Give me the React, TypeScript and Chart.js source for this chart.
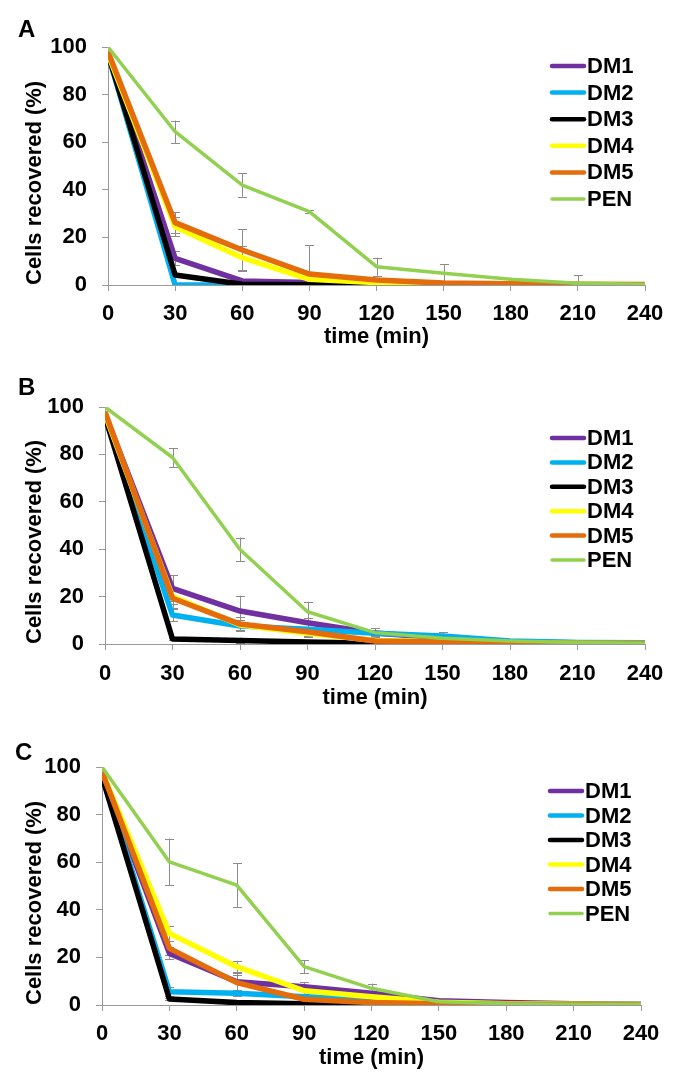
import React, { useEffect, useRef } from "react";
import { Chart, registerables } from "chart.js";
Chart.register(...registerables);

// ---------- data ----------
const TIMES = [0, 30, 60, 90, 120, 150, 180, 210, 240];
const SERIES = ["DM1", "DM2", "DM3", "DM4", "DM5", "PEN"];
const COLORS = ["#7030A0", "#00B0F0", "#000000", "#FFFF00", "#E46C0A", "#92D050"];
const Y_TICKS = [0, 20, 40, 60, 80, 100];
const X_TITLE = "time (min)";
const Y_TITLE = "Cells recovered (%)";

// Panel A values
const A_DM1 = [97, 11.2, 1.7, 1.0, 0.5, 0.3, 0.2, 0.1, 0.1];
const A_DM2 = [97, 0, 0, 0, 0, 0, 0, 0, 0];
const A_DM3 = [97, 4.2, 0.3, 0.1, 0, 0, 0, 0, 0];
const A_DM4 = [97, 24.5, 11.5, 2.4, 1.0, 0.5, 0.3, 0.2, 0.1];
const A_DM5 = [98, 26.2, 14.7, 4.6, 2.1, 0.8, 0.5, 0.3, 0.2];
const A_PEN = [100, 64.4, 42, 30.8, 7.7, 4.9, 2.4, 0.7, 0.3];
// Panel A error bars
const A_ERR_DM1 = [0, 3, 1, 0.5, 0, 0, 0, 0, 0];
const A_ERR_DM2 = [0, 0, 0, 0, 0, 0, 0, 0, 0];
const A_ERR_DM3 = [0, 1, 0, 0, 0, 0, 0, 0, 0];
const A_ERR_DM4 = [0, 4, 5, 1, 0.5, 0, 0, 0, 0];
const A_ERR_DM5 = [0, 4.3, 8.8, 12, 1, 0.5, 0, 0, 0];
const A_ERR_PEN = [0, 4.7, 4.9, 0.7, 3.8, 3.8, 0.7, 3.4, 0];

// Panel B values
const B_DM1 = [97, 23.5, 13.9, 9.0, 4.6, 2.5, 1.0, 0.5, 0.3];
const B_DM2 = [97, 12.2, 7.6, 6.2, 4.5, 3.4, 1.3, 0.6, 0.5];
const B_DM3 = [96, 2.1, 1.5, 0.8, 0.3, 0.1, 0, 0, 0];
const B_DM4 = [97, 20, 8.0, 4.5, 1.5, 1.0, 0.5, 0.3, 0.2];
const B_DM5 = [98, 19.3, 8.4, 5.2, 1.3, 0.8, 0.5, 0.3, 0.2];
const B_PEN = [100, 78.7, 39.9, 13.6, 4.8, 2.4, 1.3, 0.6, 0.3];
// Panel B error bars
const B_ERR_DM1 = [0, 5.5, 6.5, 2, 1, 0.5, 0, 0, 0];
const B_ERR_DM2 = [0, 2.5, 1.5, 1, 1, 1.5, 0, 0, 0];
const B_ERR_DM3 = [0, 0.5, 1.2, 1, 0, 0, 0, 0, 0];
const B_ERR_DM4 = [0, 3, 2, 1.5, 0.5, 0, 0, 0, 0];
const B_ERR_DM5 = [0, 4, 3, 2, 1, 0.5, 0, 0, 0];
const B_ERR_PEN = [0, 4, 5, 4.2, 2, 1, 0.3, 0, 0];

// Panel C values
const C_DM1 = [97, 21.7, 9.8, 7.7, 4.9, 1.8, 1.0, 0.5, 0.3];
const C_DM2 = [97, 5.6, 4.9, 3.5, 2.5, 1.0, 0.5, 0.3, 0.2];
const C_DM3 = [96, 2.5, 1.0, 0.5, 0.3, 0.1, 0, 0, 0];
const C_DM4 = [98, 30.1, 16.1, 6.0, 3.5, 1.2, 0.5, 0.3, 0.2];
const C_DM5 = [98, 23.8, 9.4, 2.4, 1.0, 0.5, 0.3, 0.2, 0.1];
const C_PEN = [100, 60.1, 50.4, 16.1, 7.0, 1.4, 0.5, 0.3, 0.3];
// Panel C error bars
const C_ERR_DM1 = [0, 2.5, 4, 2, 1, 0, 0, 0, 0];
const C_ERR_DM2 = [0, 2, 1, 1, 0, 0, 0, 0, 0];
const C_ERR_DM3 = [0, 0.5, 0, 0, 0, 0, 0, 0, 0];
const C_ERR_DM4 = [0, 3, 2.5, 1.5, 1, 0, 0, 0, 0];
const C_ERR_DM5 = [0, 3, 3, 1, 0, 0, 0, 0, 0];
const C_ERR_PEN = [0, 9.8, 9.2, 2.8, 2, 0.5, 0, 0, 0];

// ---------- layout ----------
const FONT_FAMILY = '"Liberation Sans", Arial, Helvetica, sans-serif';
const AXIS_COLOR = "#9a9a9a";
const ERR_COLOR = "#8c8c8c";

type Panel = {
  letter: string;
  top: number;
  height: number;
  area: { left: number; top: number; right: number; bottom: number };
  tickPad: number;
  titleGap: number;
  letterPos: { x: number; y: number };
  legend: { x: number; y: number; gap: number };
  values: number[][];
  errors: number[][];
};

const PANELS: Panel[] = [
  {
    letter: "A",
    top: 0,
    height: 360,
    area: { left: 108, top: 47, right: 645, bottom: 285 },
    tickPad: 10,
    titleGap: 52,
    letterPos: { x: 18, y: 37 },
    legend: { x: 550, y: 66, gap: 26.6 },
    values: [A_DM1, A_DM2, A_DM3, A_DM4, A_DM5, A_PEN],
    errors: [A_ERR_DM1, A_ERR_DM2, A_ERR_DM3, A_ERR_DM4, A_ERR_DM5, A_ERR_PEN],
  },
  {
    letter: "B",
    top: 360,
    height: 360,
    area: { left: 105, top: 47, right: 645, bottom: 284 },
    tickPad: 11,
    titleGap: 54,
    letterPos: { x: 18, y: 35 },
    legend: { x: 550, y: 78, gap: 24.4 },
    values: [B_DM1, B_DM2, B_DM3, B_DM4, B_DM5, B_PEN],
    errors: [B_ERR_DM1, B_ERR_DM2, B_ERR_DM3, B_ERR_DM4, B_ERR_DM5, B_ERR_PEN],
  },
  {
    letter: "C",
    top: 720,
    height: 366,
    area: { left: 102, top: 47, right: 641, bottom: 285 },
    tickPad: 10,
    titleGap: 53,
    letterPos: { x: 15, y: 40 },
    legend: { x: 548, y: 71, gap: 24.5 },
    values: [C_DM1, C_DM2, C_DM3, C_DM4, C_DM5, C_PEN],
    errors: [C_ERR_DM1, C_ERR_DM2, C_ERR_DM3, C_ERR_DM4, C_ERR_DM5, C_ERR_PEN],
  },
];

const errorBarPlugin = {
  id: "errorBars",
  beforeDatasetsDraw(chart: any, _args: any, opts: any) {
    const errors: number[][] = opts.errors || [];
    const { ctx, chartArea } = chart;
    const xs = chart.scales.x;
    const ys = chart.scales.y;
    ctx.save();
    ctx.beginPath();
    ctx.rect(chartArea.left - 10, chartArea.top - 10, chartArea.right - chartArea.left + 20, chartArea.bottom - chartArea.top + 10);
    ctx.clip();
    ctx.strokeStyle = ERR_COLOR;
    ctx.lineWidth = 1;
    chart.data.datasets.forEach((ds: any, i: number) => {
      const errs = errors[i] || [];
      ds.data.forEach((pt: any, j: number) => {
        const e = errs[j];
        if (!e) return;
        const px = Math.round(xs.getPixelForValue(pt.x)) + 0.5;
        const y1 = ys.getPixelForValue(pt.y + e);
        const y2 = ys.getPixelForValue(pt.y - e);
        ctx.beginPath();
        ctx.moveTo(px, y1);
        ctx.lineTo(px, y2);
        ctx.moveTo(px - 4.5, Math.round(y1) + 0.5);
        ctx.lineTo(px + 4.5, Math.round(y1) + 0.5);
        ctx.moveTo(px - 4.5, Math.round(y2) + 0.5);
        ctx.lineTo(px + 4.5, Math.round(y2) + 0.5);
        ctx.stroke();
      });
    });
    ctx.restore();
  },
};

const legendPlugin = {
  id: "panelLegend",
  afterDraw(chart: any, _args: any, opts: any) {
    const { ctx } = chart;
    ctx.save();
    // panel letter
    ctx.fillStyle = "#000";
    ctx.font = `bold 24px ${FONT_FAMILY}`;
    ctx.textBaseline = "alphabetic";
    ctx.textAlign = "left";
    ctx.fillText(opts.letter, opts.letterPos.x, opts.letterPos.y);
    // legend
    ctx.font = `bold 22px ${FONT_FAMILY}`;
    ctx.textBaseline = "middle";
    chart.data.datasets.forEach((ds: any, i: number) => {
      const y = opts.legend.y + i * opts.legend.gap;
      ctx.strokeStyle = ds.borderColor;
      ctx.lineWidth = ds.label === "PEN" ? 3.5 : 4.5;
      ctx.lineCap = "round";
      ctx.beginPath();
      ctx.moveTo(opts.legend.x + 2, y);
      ctx.lineTo(opts.legend.x + 34, y);
      ctx.stroke();
      ctx.fillStyle = "#000";
      ctx.fillText(ds.label, opts.legend.x + 37, y + 1);
    });
    ctx.restore();
  },
};

function PanelChart({ panel }: { panel: Panel }) {
  const ref = useRef<HTMLCanvasElement | null>(null);
  useEffect(() => {
    if (!ref.current) return;
    const font = { family: FONT_FAMILY, size: 22, weight: "bold" as const };
    const a = panel.area;
    const xTitlePad = panel.height - a.bottom - panel.titleGap - 13.2;
    const chart = new Chart(ref.current, {
      type: "line",
      data: {
        datasets: SERIES.map((name, i) => ({
          label: name,
          data: TIMES.map((t, j) => ({ x: t, y: panel.values[i][j] })),
          borderColor: COLORS[i],
          backgroundColor: COLORS[i],
          borderWidth: name === "PEN" ? 3.5 : 5.5,
          pointRadius: 0,
          tension: 0,
          fill: false,
          order: SERIES.length - i,
          borderJoinStyle: "round",
        })),
      },
      options: {
        responsive: false,
        animation: false,
        events: [],
        layout: { padding: { left: 0, top: a.top, right: 686 - a.right, bottom: 0 } },
        plugins: {
          legend: { display: false },
          tooltip: { enabled: false },
          errorBars: { errors: panel.errors },
          panelLegend: { letter: panel.letter, letterPos: panel.letterPos, legend: panel.legend },
        } as any,
        scales: {
          x: {
            type: "linear",
            min: 0,
            max: 240,
            afterBuildTicks: (s: any) => {
              s.ticks = TIMES.map((v) => ({ value: v }));
            },
            afterFit: (s: any) => {
              s.height = panel.height - a.bottom;
            },
            grid: { drawOnChartArea: false, drawTicks: true, tickLength: 6, color: AXIS_COLOR },
            border: { color: AXIS_COLOR, width: 1 },
            ticks: { padding: panel.tickPad, font, color: "#000", maxRotation: 0, autoSkip: false },
            title: { display: true, text: X_TITLE, font, color: "#000", padding: { top: 0, bottom: xTitlePad } },
          },
          y: {
            type: "linear",
            min: 0,
            max: 100,
            afterBuildTicks: (s: any) => {
              s.ticks = Y_TICKS.map((v) => ({ value: v }));
            },
            afterFit: (s: any) => {
              s.width = a.left;
            },
            grid: { drawOnChartArea: false, drawTicks: true, tickLength: 6, color: AXIS_COLOR },
            border: { color: AXIS_COLOR, width: 1 },
            ticks: { padding: 15, font, color: "#000" },
            title: { display: true, text: Y_TITLE, align: "start", font, color: "#000", padding: { top: 22, bottom: 0 } },
          },
        },
      },
      plugins: [errorBarPlugin, legendPlugin],
    } as any);
    return () => chart.destroy();
  }, [panel]);
  return (
    <canvas
      ref={ref}
      width={686}
      height={panel.height}
      style={{ position: "absolute", left: 0, top: panel.top, width: 686, height: panel.height }}
    />
  );
}

export default function App() {
  return (
    <div style={{ position: "absolute", left: 0, top: 0, width: 686, height: 1086, background: "#fff" }}>
      {PANELS.map((p) => (
        <PanelChart key={p.letter} panel={p} />
      ))}
    </div>
  );
}
